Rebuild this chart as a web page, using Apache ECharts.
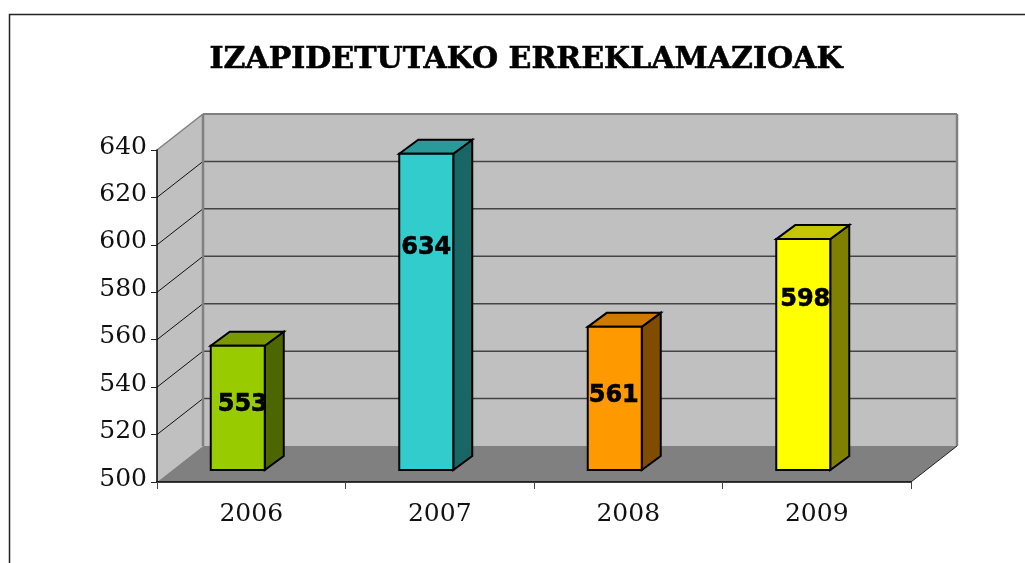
<!DOCTYPE html>
<html><head><meta charset="utf-8">
<style>html,body{margin:0;padding:0;background:#fff}#c{width:1025px;height:563px}</style>
<script src="https://cdn.jsdelivr.net/npm/echarts@6/dist/echarts.min.js"></script>
</head><body><div id="c"></div>
<script>
const titleText = 'IZAPIDETUTAKO ERREKLAMAZIOAK';
const categories = ['2006', '2007', '2008', '2009'];
const values = [553, 634, 561, 598];
const frontColors = ['#99CC00', '#33CCCC', '#FF9900', '#FFFF00'];
const sideColors = ['#4C6600', '#196666', '#804C00', '#808000'];
const topColors = ['#7A9900', '#299999', '#CC7A00', '#C4C400'];
const yTicks = [500, 520, 540, 560, 580, 600, 620, 640];
// layout (pixels)
const wallDepth = [46, -36];
const barDepth = [19, -14];
const barWidth = 54;
const barShiftX = -13.5;
const barLiftBase = 12;
const barLiftTop = 10.5;
const labelNudge = [[5, -3], [0, -64], [-1, -3], [2, -55]];

const chart = echarts.init(document.getElementById('c'));
function poly(points, fill, stroke, lw) {
  return { type: 'polygon', shape: { points }, style: { fill, stroke: stroke || null, lineWidth: lw || 0, lineJoin: 'miter' } };
}
function line(a, b, stroke, lw) {
  return { type: 'line', shape: { x1: a[0], y1: a[1], x2: b[0], y2: b[1] }, style: { stroke, lineWidth: lw } };
}
function renderWalls(params, api) {
  const [dx, dy] = wallDepth;
  const cs = params.coordSys;
  const L = cs.x, R = cs.x + cs.width;
  const T = api.coord([0, yTicks[yTicks.length - 1]])[1], B = api.coord([0, yTicks[0]])[1];
  const ch = [
    poly([[L, T], [L + dx, T + dy], [L + dx, B + dy], [L, B]], '#C0C0C0'),
    poly([[L + dx, T + dy], [R + dx, T + dy], [R + dx, B + dy], [L + dx, B + dy]], '#C0C0C0'),
    poly([[L, B], [L + dx, B + dy], [R + dx, B + dy], [R, B]], '#808080')
  ];
  yTicks.slice(1, -1).forEach(v => {
    const y = api.coord([0, v])[1];
    ch.push(line([L, y], [L + dx, y + dy], '#111', 1));
    ch.push(line([L + dx, y + dy], [R + dx, y + dy], '#444', 1.5));
  });
  ch.push(line([L, T], [L + dx, T + dy], '#808080', 1.5));
  ch.push(line([L + dx, T + dy], [R + dx, T + dy], '#808080', 2));
  ch.push(line([L + dx, T + dy], [L + dx, B + dy], '#808080', 2.5));
  ch.push(line([R + dx, T + dy], [R + dx, B + dy], '#808080', 2.5));
  ch.push(line([R, B], [R + dx, B + dy], '#222', 1));
  return { type: 'group', children: ch };
}
function renderBar(params, api) {
  const i = api.value(0), v = api.value(1);
  const c = api.coord([i, v]);
  const base = api.coord([i, yTicks[0]]);
  const x0 = c[0] + barShiftX - barWidth / 2, x1 = x0 + barWidth;
  const yT = c[1] - barLiftTop, yB = base[1] - barLiftBase;
  const [dx, dy] = barDepth;
  const s = '#000', lw = 2;
  const n = labelNudge[i];
  return { type: 'group', children: [
    poly([[x1, yT], [x1 + dx, yT + dy], [x1 + dx, yB + dy], [x1, yB]], sideColors[i], s, lw),
    poly([[x0, yT], [x0 + dx, yT + dy], [x1 + dx, yT + dy], [x1, yT]], topColors[i], s, lw),
    poly([[x0, yT], [x1, yT], [x1, yB], [x0, yB]], frontColors[i], s, lw),
    { type: 'text', style: { text: String(v), x: (x0 + x1) / 2 + n[0], y: (yT + yB) / 2 + n[1], align: 'center', verticalAlign: 'middle',
      fill: '#000', stroke: '#000', lineWidth: 0.6, font: 'bold 24px "DejaVu Sans"' } }
  ] };
}
chart.setOption({
  animation: false,
  backgroundColor: '#fff',
  title: { text: titleText, left: 521, top: 40, textAlign: 'center',
    textStyle: { fontFamily: 'DejaVu Serif', fontWeight: 'bold', fontSize: 30, color: '#000',
      textBorderColor: '#000', textBorderWidth: 0.6 } },
  grid: { left: 157, right: 114, top: 150, bottom: 81 },
  xAxis: { type: 'category', data: categories, z: 3,
    axisLine: { lineStyle: { color: '#000', width: 1.5 } },
    axisTick: { show: true, alignWithLabel: false, length: 7, lineStyle: { color: '#444' } },
    axisLabel: { color: '#111', fontFamily: 'DejaVu Serif', fontSize: 25, margin: 20 } },
  yAxis: { type: 'value', min: 500, max: 640, interval: 20, z: 3,
    axisLine: { show: true, lineStyle: { color: '#000', width: 1.5 } },
    axisTick: { show: true, length: 6, lineStyle: { color: '#222' } },
    splitLine: { show: false },
    axisLabel: { color: '#111', fontFamily: 'DejaVu Serif', fontSize: 25, margin: 10, verticalAlign: 'bottom', lineHeight: 6 } },
  series: [
    { type: 'custom', z: 1, clip: false, silent: true, renderItem: renderWalls, data: [[0]], encode: { x: 0 } },
    { type: 'custom', z: 4, clip: false, renderItem: renderBar,
      data: values.map((v, i) => [i, v]), encode: { x: 0, y: 1 } }
  ],
  graphic: [{ type: 'polyline', silent: true, z: 10,
    shape: { points: [[9.5, 563], [9.5, 14.5], [1025, 14.5]] },
    style: { stroke: '#222', lineWidth: 1.5, fill: null } }]
});
</script></body></html>
